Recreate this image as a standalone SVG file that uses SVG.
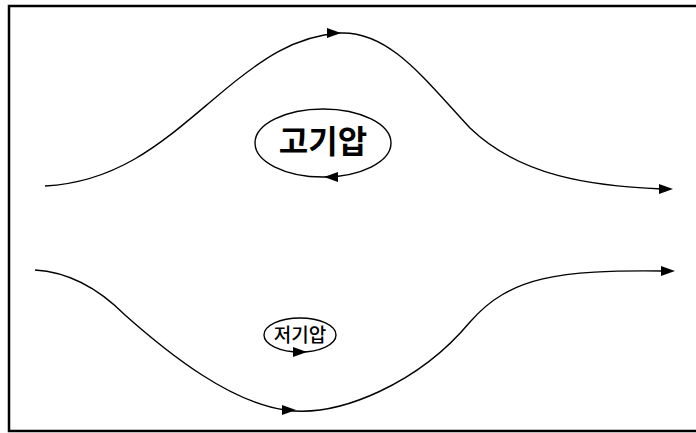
<svg xmlns="http://www.w3.org/2000/svg" width="696" height="433" viewBox="0 0 696 433">
<style>
.c{fill:none;stroke:#000;stroke-width:1.4}
.t{font-family:"Noto Sans CJK KR","Noto Sans",sans-serif;fill:#000;text-anchor:middle}
.a{fill:#000}
</style>
<rect x="0" y="0" width="696" height="433" fill="#fff"/>
<rect x="9" y="6" width="700" height="425" fill="none" stroke="#000" stroke-width="2.5"/>
<g id="connectors">
<path class="c" d="M45,186 C120,182 165,140 215,98 C262,58 295,36 340,33 C390,31 425,80 470,128 C520,176 590,186 662,189"/>
<polygon class="a" points="673,189 659,184 659,194"/>
<polygon class="a" points="341,33 327,28 327,38"/>
<path class="c" d="M35,270 C70,272 100,290 125,315 C170,355 230,402 285,410 C340,418 420,382 470,322 C510,276 560,270 662,271"/>
<polygon class="a" points="675,271 661,266 661,276"/>
<polygon class="a" points="296,410 282,405 282,415"/>
</g>
<g id="high">
<ellipse class="c" cx="323" cy="143" rx="68" ry="34"/>
<text class="t" x="323" y="153" font-size="32" font-weight="bold">고기압</text>
<polygon class="a" points="324,177 338,172 338,182"/>
</g>
<g id="low">
<ellipse class="c" cx="300" cy="335" rx="36" ry="17"/>
<text class="t" x="300" y="342" font-size="19" font-weight="500">저기압</text>
<polygon class="a" points="307,352 293,347 293,357"/>
</g>
</svg>
